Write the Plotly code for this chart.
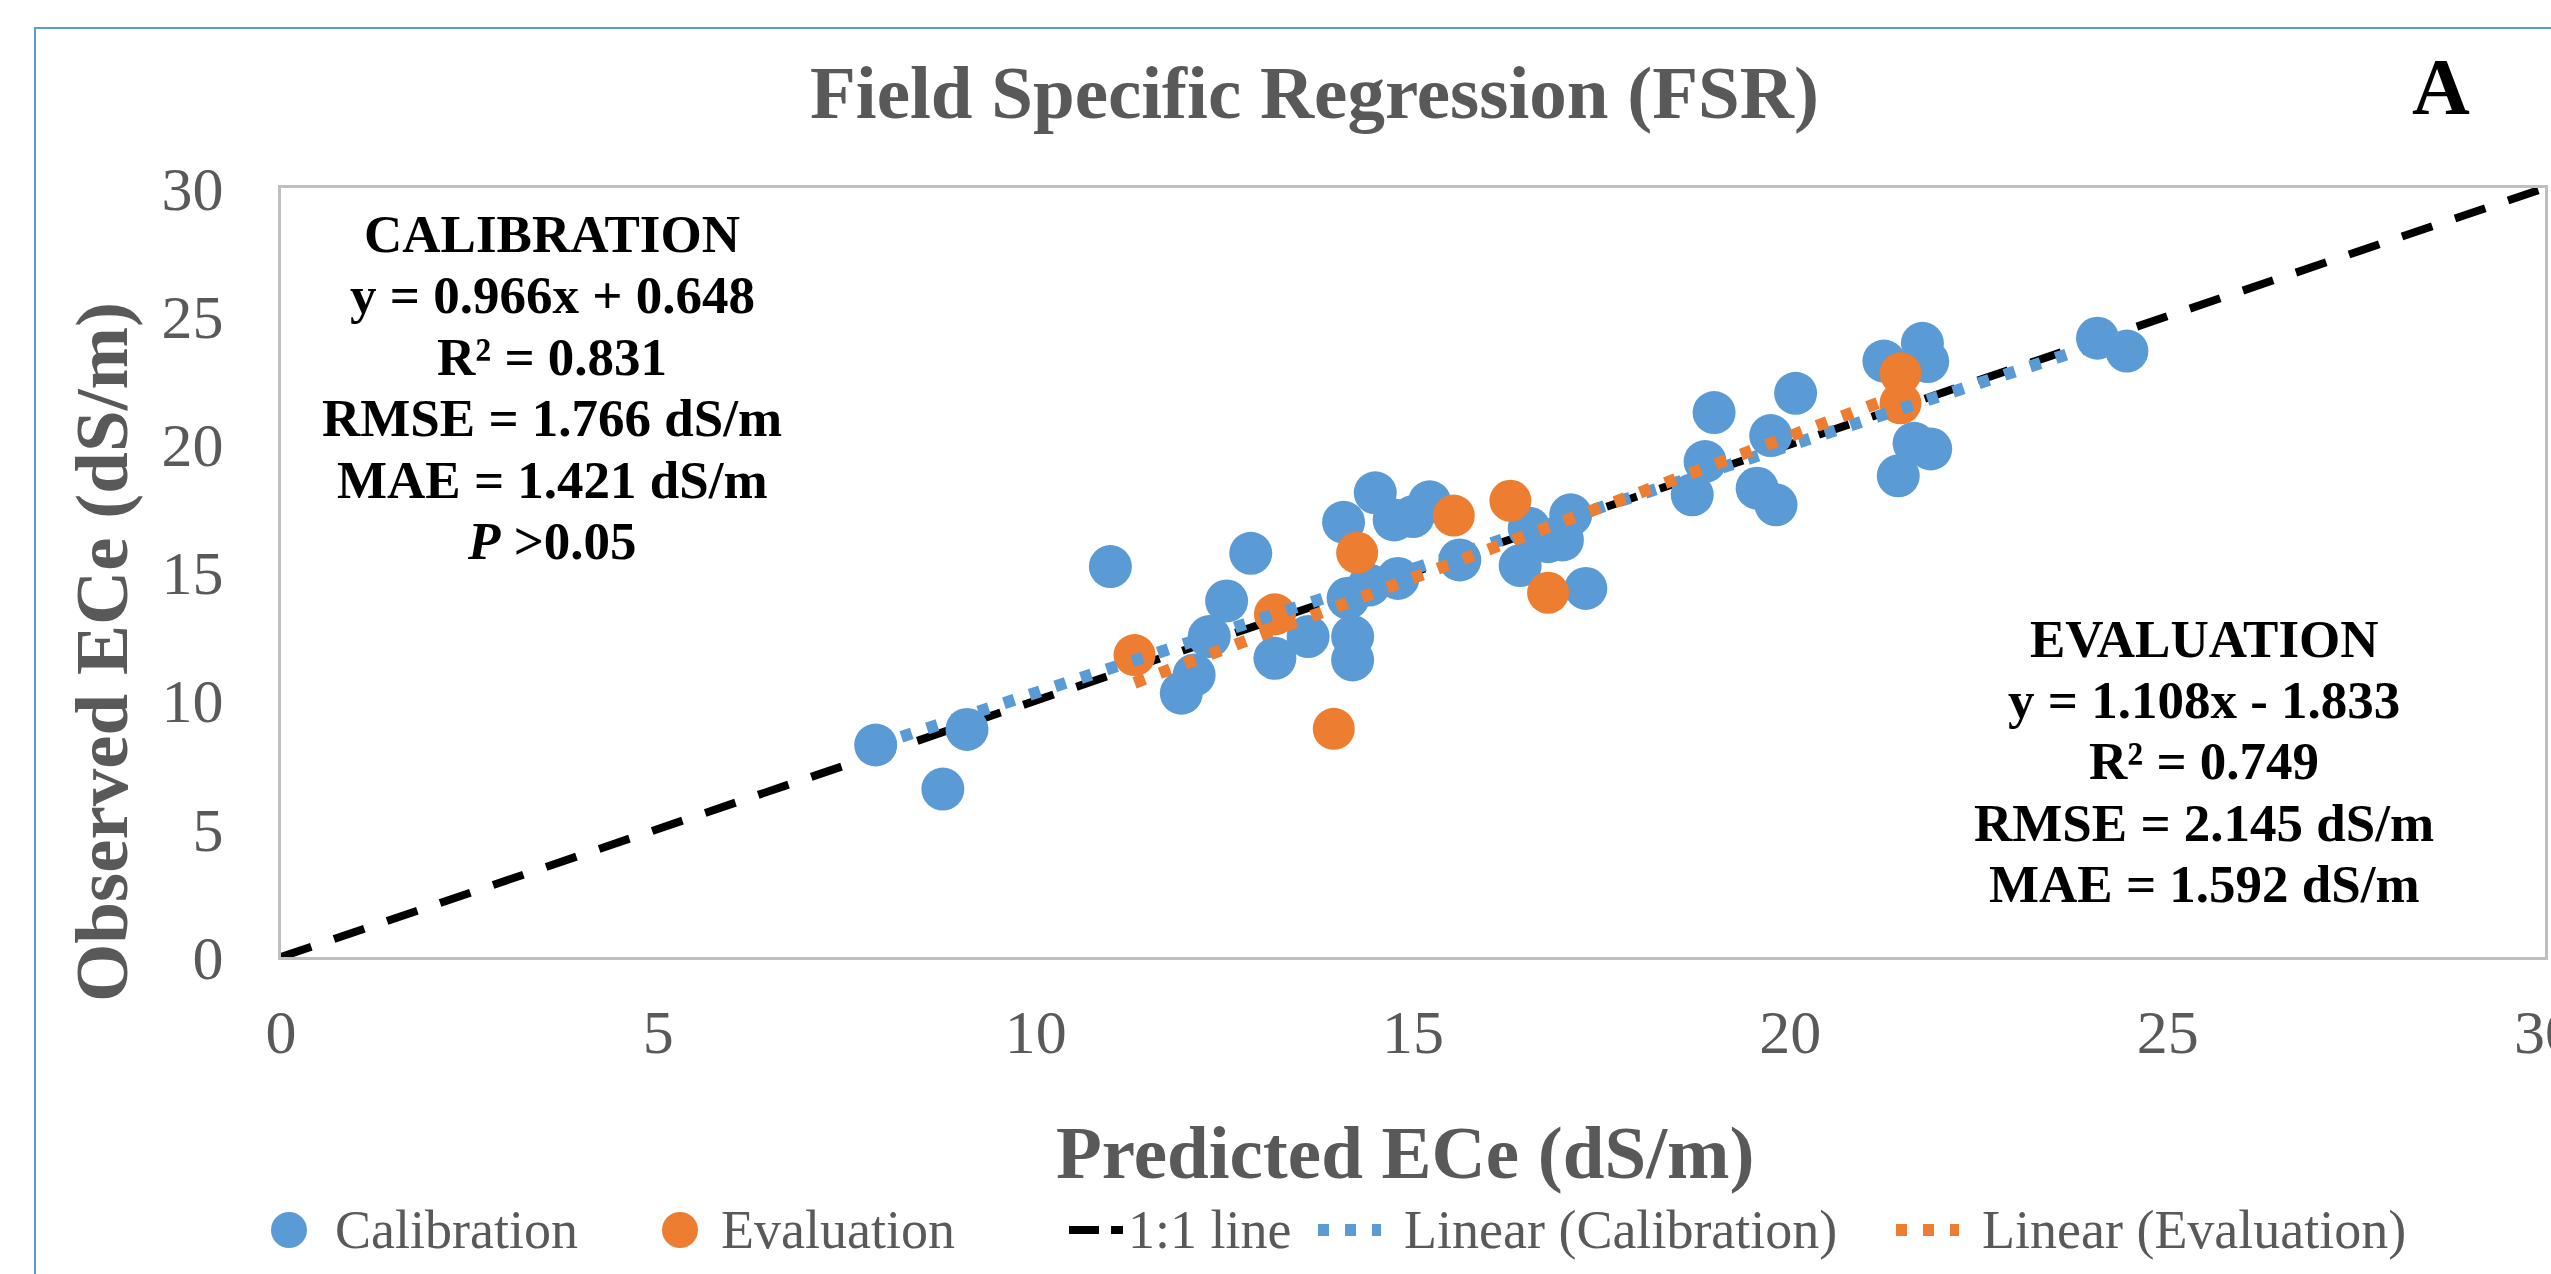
import plotly.graph_objects as go

# ---------------- data ----------------
cal_pred = [7.88, 8.77, 9.09, 10.99, 11.93, 12.10, 12.30, 12.53, 12.85, 13.17, 13.61,
            14.08, 14.14, 14.20, 14.20, 14.42, 14.50, 14.75, 14.80, 15.00, 15.22, 15.62,
            16.42, 16.54, 16.79, 16.98, 17.09, 17.29, 18.70, 18.87, 18.99, 19.56, 19.74,
            19.81, 20.07, 21.24, 21.43, 21.64, 21.75, 21.82, 21.86, 24.07, 24.46]
cal_obs = [8.27, 6.55, 8.88, 15.23, 10.29, 11.00, 12.50, 13.89, 15.75, 11.65, 12.50,
           16.96, 14.00, 12.50, 11.59, 14.51, 18.11, 17.05, 14.77, 17.18, 17.76, 15.49,
           15.27, 16.73, 16.20, 16.27, 17.25, 14.38, 18.03, 19.33, 21.24, 18.29, 20.34,
           17.64, 21.99, 23.25, 18.77, 20.04, 23.94, 23.23, 19.82, 24.14, 23.64]
eval_pred = [11.31, 13.17, 13.95, 14.26, 15.54, 16.29, 16.79, 21.46, 21.46]
eval_obs = [11.78, 13.37, 8.90, 15.77, 17.22, 17.80, 14.21, 21.60, 22.77]

cal_slope, cal_intercept = 0.966, 0.648
eval_slope, eval_intercept = 1.108, -1.833
one_to_one = [0, 30]

x_ticks = [0, 5, 10, 15, 20, 25, 30]
y_ticks = [0, 5, 10, 15, 20, 25, 30]

title_text = "Field Specific Regression (FSR)"
panel_label = "A"
x_title = "Predicted ECe (dS/m)"
y_title = "Observed ECe (dS/m)"
cal_lines = ["CALIBRATION", "y = 0.966x + 0.648", "R² = 0.831", "RMSE = 1.766 dS/m",
             "MAE = 1.421 dS/m", "<i>P</i> &gt;0.05"]
eval_lines = ["EVALUATION", "y = 1.108x - 1.833", "R² = 0.749", "RMSE = 2.145 dS/m",
              "MAE = 1.592 dS/m"]
legend_labels = ["Calibration", "Evaluation", "1:1 line", "Linear (Calibration)", "Linear (Evaluation)"]

# ---------------- styling / geometry ----------------
BLUE = "#5B9BD5"
ORANGE = "#ED7D31"
GRAY = "#595959"
SERIF = "Liberation Serif, Times New Roman, serif"
W, H = 2551, 1274
PL, PR, PT, PB = 281, 2545, 188, 957
TREND_DASH = "11px,16px"


def px(X):
    return (X - PL) / (PR - PL)


def py(Y):
    return (PB - Y) / (PB - PT)


fig = go.Figure()

# 1:1 line
fig.add_trace(go.Scatter(x=one_to_one, y=one_to_one, mode="lines",
                         line=dict(color="black", width=8, dash="32px,24px"),
                         name=legend_labels[2], showlegend=False, hoverinfo="skip"))
# data
fig.add_trace(go.Scatter(x=cal_pred, y=cal_obs, mode="markers",
                         marker=dict(color=BLUE, size=43, line=dict(width=0)),
                         name=legend_labels[0], showlegend=False))
fig.add_trace(go.Scatter(x=eval_pred, y=eval_obs, mode="markers",
                         marker=dict(color=ORANGE, size=42, line=dict(width=0)),
                         name=legend_labels[1], showlegend=False))
# trendlines
cx = [min(cal_pred), max(cal_pred)]
ex = [min(eval_pred), max(eval_pred)]
fig.add_trace(go.Scatter(x=cx, y=[cal_slope * v + cal_intercept for v in cx], mode="lines",
                         line=dict(color=BLUE, width=12, dash=TREND_DASH),
                         name=legend_labels[3], showlegend=False, hoverinfo="skip"))
fig.add_trace(go.Scatter(x=ex, y=[eval_slope * v + eval_intercept for v in ex], mode="lines",
                         line=dict(color=ORANGE, width=12, dash=TREND_DASH),
                         name=legend_labels[4], showlegend=False, hoverinfo="skip"))

annotations = []


def ann(text, X, Y, size, color="black", bold=True, xanchor="center", angle=0):
    t = f"<b>{text}</b>" if bold else text
    annotations.append(dict(text=t, x=px(X), y=py(Y), xref="paper", yref="paper",
                            showarrow=False, xanchor=xanchor, yanchor="middle",
                            textangle=angle,
                            font=dict(family=SERIF, size=size, color=color)))


ann(title_text, 1314, 93, 75, GRAY)
ann(panel_label, 2441, 87, 80, "black")
ann(x_title, 1405, 1152, 75, GRAY)
ann(y_title, 101, 652, 75, GRAY, angle=-90)

for i, line in enumerate(cal_lines):
    ann(line, 552, 234 + 61.4 * i, 53)
for i, line in enumerate(eval_lines):
    ann(line, 2204, 638.5 + 61.4 * i, 53)

# manual legend
LEG_Y = 1230
leg_text_x = [333, 719, 1126, 1402, 1980]
for lab, X in zip(legend_labels, leg_text_x):
    ann(lab, X, LEG_Y, 54, GRAY, bold=False, xanchor="left")

shapes = []
# outer chart-area border
shapes.append(dict(type="rect", xref="paper", yref="paper", x0=px(35), x1=px(2650),
                   y0=py(1320), y1=py(28), line=dict(color=BLUE, width=2), layer="below"))
# legend marker circles
for cxp, col in [(289, BLUE), (680, ORANGE)]:
    shapes.append(dict(type="circle", xref="paper", yref="paper",
                       x0=px(cxp - 18), x1=px(cxp + 18), y0=py(LEG_Y + 18), y1=py(LEG_Y - 18),
                       fillcolor=col, line=dict(width=0)))
# legend line icons
shapes.append(dict(type="line", xref="paper", yref="paper", x0=px(1069), x1=px(1123),
                   y0=py(LEG_Y), y1=py(LEG_Y), line=dict(color="black", width=8, dash="30px,12px")))
shapes.append(dict(type="line", xref="paper", yref="paper", x0=px(1318), x1=px(1381),
                   y0=py(LEG_Y), y1=py(LEG_Y), line=dict(color=BLUE, width=12, dash=TREND_DASH)))
shapes.append(dict(type="line", xref="paper", yref="paper", x0=px(1896), x1=px(1959),
                   y0=py(LEG_Y), y1=py(LEG_Y), line=dict(color=ORANGE, width=12, dash=TREND_DASH)))

fig.update_layout(
    width=W, height=H,
    margin=dict(l=PL, r=W - PR, t=PT, b=H - PB, pad=0, autoexpand=False),
    paper_bgcolor="white", plot_bgcolor="white",
    showlegend=False,
    annotations=annotations,
    shapes=shapes,
    font=dict(family=SERIF, color=GRAY),
)
fig.update_xaxes(range=[0, 30], tickvals=x_ticks, ticktext=[str(v) for v in x_ticks],
                 showgrid=False, zeroline=False, showline=True, linecolor="#BFBFBF",
                 linewidth=3, mirror=True, ticks="", ticklabelstandoff=19,
                 ticklabeloverflow="allow", automargin=False,
                 tickfont=dict(family=SERIF, size=62, color=GRAY), fixedrange=True)
fig.update_yaxes(range=[0, 30], tickvals=y_ticks, ticktext=[str(v) for v in y_ticks],
                 showgrid=False, zeroline=False, showline=True, linecolor="#BFBFBF",
                 linewidth=3, mirror=True, ticks="", ticklabelstandoff=42,
                 ticklabeloverflow="allow", automargin=False,
                 tickfont=dict(family=SERIF, size=62, color=GRAY), fixedrange=True)

fig.write_html("out.html")
